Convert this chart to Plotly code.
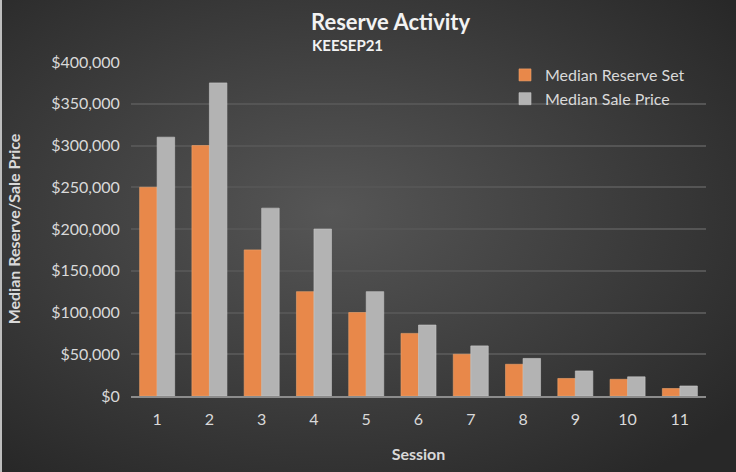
import base64
import plotly.graph_objects as go

sessions = ["1", "2", "3", "4", "5", "6", "7", "8", "9", "10", "11"]
median_reserve_set = [250000, 300000, 175000, 125000, 100000, 75000, 50000, 38000, 21000, 20000, 9000]
median_sale_price = [310000, 375000, 225000, 200000, 125000, 85000, 60000, 45000, 30000, 23000, 12000]
y_ticks = [0, 50000, 100000, 150000, 200000, 250000, 300000, 350000, 400000]
y_tick_labels = ["$0", "$50,000", "$100,000", "$150,000", "$200,000", "$250,000", "$300,000", "$350,000", "$400,000"]

FONT = "Lato"
TXT = "#d9d9d9"
W, H = 736, 472
L, R, T, B = 131, 30, 62, 76
PW, PH = W - L - R, H - T - B

svg = """<svg xmlns='http://www.w3.org/2000/svg' width='736' height='472'>
<defs><radialGradient id='g' cx='0.45' cy='0.45' r='0.7'>
<stop offset='0' stop-color='#565656'/><stop offset='1' stop-color='#282828'/>
</radialGradient></defs>
<rect width='736' height='472' fill='url(#g)'/>
<rect x='0' y='0' width='2' height='472' fill='#bdbdbd'/></svg>"""
bg = "data:image/svg+xml;base64," + base64.b64encode(svg.encode()).decode()

def px_x(x):
    return (x - L) / PW

def px_y(y):
    return (H - B - y) / PH

fig = go.Figure()
fig.add_trace(go.Bar(x=sessions, y=median_reserve_set, name="Median Reserve Set",
                     marker=dict(color="#e8884a", line=dict(color="#f0a46c", width=0.6))))
fig.add_trace(go.Bar(x=sessions, y=median_sale_price, name="Median Sale Price",
                     marker=dict(color="#b3b3b3", line=dict(color="#c8c8c8", width=0.6))))

fig.update_layout(
    width=W, height=H,
    margin=dict(l=L, r=R, t=T, b=B),
    paper_bgcolor="#333333", plot_bgcolor="rgba(0,0,0,0)",
    barmode="group", bargap=0.33, bargroupgap=0,
    font=dict(family=FONT, color=TXT, size=16),
    images=[dict(source=bg, xref="paper", yref="paper", x=px_x(0), y=px_y(0),
                 sizex=W / PW, sizey=H / PH,
                 xanchor="left", yanchor="top", layer="below", sizing="stretch")],
    annotations=[
        dict(text="<b>Reserve Activity</b>", xref="paper", yref="paper", x=px_x(309), y=px_y(22),
             xanchor="left", yanchor="middle", showarrow=False,
             font=dict(family=FONT, size=22, color="#f2f2f2")),
        dict(text="<b>KEESEP21</b>", xref="paper", yref="paper", x=px_x(310), y=px_y(45),
             xanchor="left", yanchor="middle", showarrow=False,
             font=dict(family=FONT, size=15, color="#f2f2f2")),
    ],
    legend=dict(x=px_x(505), y=px_y(58), xanchor="left", yanchor="top",
                bgcolor="rgba(0,0,0,0)", font=dict(family=FONT, size=16, color=TXT),
                itemwidth=30, tracegroupgap=0),
    xaxis=dict(title=dict(text="<b>Session</b>", font=dict(size=16, color=TXT), standoff=22),
               showgrid=False, showline=True, linecolor="#8c8c8c", linewidth=2,
               ticks="outside", ticklen=8, tickcolor="rgba(0,0,0,0)",
               tickfont=dict(size=16, color=TXT)),
    yaxis=dict(title=dict(text="<b>Median Reserve/Sale Price</b>", font=dict(size=16, color=TXT), standoff=26),
               range=[0, 400000], tickvals=y_ticks, ticktext=y_tick_labels,
               showgrid=True, gridcolor="#555555", gridwidth=1.5, zeroline=False,
               showline=False, ticks="outside", ticklen=7, tickcolor="rgba(0,0,0,0)",
               tickfont=dict(size=16, color=TXT)),
)

fig.write_html("out.html", config={"displayModeBar": False},
               post_script="document.body.style.margin='0';document.body.style.overflow='hidden';")
